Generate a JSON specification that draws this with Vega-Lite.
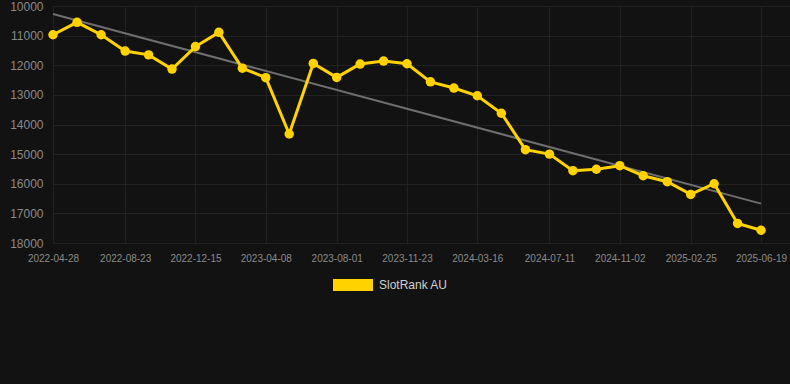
{
  "$schema": "https://vega.github.io/schema/vega-lite/v6.json",
  "width": 737,
  "height": 237,
  "autosize": {"type": "none"},
  "padding": {"left": 53, "top": 6, "right": 0, "bottom": 141},
  "background": "#121212",
  "config": {
    "view": {"stroke": null},
    "font": "Liberation Sans"
  },
  "datasets": {
    "rank": [
      {"date": "2022-04-28", "rank": 10970, "series": "SlotRank AU"},
      {"date": "2022-06-06", "rank": 10550, "series": "SlotRank AU"},
      {"date": "2022-07-15", "rank": 10970, "series": "SlotRank AU"},
      {"date": "2022-08-23", "rank": 11520, "series": "SlotRank AU"},
      {"date": "2022-09-30", "rank": 11650, "series": "SlotRank AU"},
      {"date": "2022-11-07", "rank": 12130, "series": "SlotRank AU"},
      {"date": "2022-12-15", "rank": 11370, "series": "SlotRank AU"},
      {"date": "2023-01-22", "rank": 10890, "series": "SlotRank AU"},
      {"date": "2023-03-01", "rank": 12100, "series": "SlotRank AU"},
      {"date": "2023-04-08", "rank": 12420, "series": "SlotRank AU"},
      {"date": "2023-05-16", "rank": 14320, "series": "SlotRank AU"},
      {"date": "2023-06-24", "rank": 11940, "series": "SlotRank AU"},
      {"date": "2023-08-01", "rank": 12410, "series": "SlotRank AU"},
      {"date": "2023-09-08", "rank": 11960, "series": "SlotRank AU"},
      {"date": "2023-10-16", "rank": 11860, "series": "SlotRank AU"},
      {"date": "2023-11-23", "rank": 11950, "series": "SlotRank AU"},
      {"date": "2023-12-31", "rank": 12560, "series": "SlotRank AU"},
      {"date": "2024-02-07", "rank": 12770, "series": "SlotRank AU"},
      {"date": "2024-03-16", "rank": 13030, "series": "SlotRank AU"},
      {"date": "2024-04-24", "rank": 13620, "series": "SlotRank AU"},
      {"date": "2024-06-02", "rank": 14850, "series": "SlotRank AU"},
      {"date": "2024-07-11", "rank": 15000, "series": "SlotRank AU"},
      {"date": "2024-08-18", "rank": 15560, "series": "SlotRank AU"},
      {"date": "2024-09-25", "rank": 15510, "series": "SlotRank AU"},
      {"date": "2024-11-02", "rank": 15390, "series": "SlotRank AU"},
      {"date": "2024-12-10", "rank": 15730, "series": "SlotRank AU"},
      {"date": "2025-01-18", "rank": 15930, "series": "SlotRank AU"},
      {"date": "2025-02-25", "rank": 16360, "series": "SlotRank AU"},
      {"date": "2025-04-04", "rank": 16000, "series": "SlotRank AU"},
      {"date": "2025-05-12", "rank": 17340, "series": "SlotRank AU"},
      {"date": "2025-06-19", "rank": 17570, "series": "SlotRank AU"}
    ],
    "trend": [
      {"date": "2022-04-28", "rank": 10270},
      {"date": "2025-06-19", "rank": 16670}
    ]
  },
  "encoding": {
    "x": {
      "field": "date",
      "type": "temporal",
      "scale": {"domain": ["2022-04-28", "2025-08-05"]},
      "axis": {
        "title": null,
        "values": ["2022-04-28", "2022-08-23", "2022-12-15", "2023-04-08", "2023-08-01", "2023-11-23", "2024-03-16", "2024-07-11", "2024-11-02", "2025-02-25", "2025-06-19"],
        "format": "%Y-%m-%d",
        "labelColor": "#8a8a8a",
        "labelFontSize": 10,
        "labelPadding": 10,
        "labelFont": "Liberation Sans",
        "labelOverlap": false,
        "labelFlush": false,
        "ticks": false,
        "domain": false,
        "grid": true,
        "gridColor": "#222222",
        "gridWidth": 1
      }
    },
    "y": {
      "field": "rank",
      "type": "quantitative",
      "scale": {"domain": [10000, 18000], "reverse": true, "nice": false, "zero": false},
      "axis": {
        "title": null,
        "values": [10000, 11000, 12000, 13000, 14000, 15000, 16000, 17000, 18000],
        "format": "d",
        "labelColor": "#8a8a8a",
        "labelFontSize": 12,
        "labelPadding": 10,
        "labelFont": "Liberation Sans",
        "labelFlush": false,
        "ticks": false,
        "domain": false,
        "grid": true,
        "gridColor": "#222222",
        "gridWidth": 1
      }
    }
  },
  "layer": [
    {
      "data": {"name": "trend"},
      "mark": {"type": "line", "color": "#6e6e6e", "strokeWidth": 2}
    },
    {
      "data": {"name": "rank"},
      "mark": {"type": "line", "strokeWidth": 3, "point": {"filled": true, "size": 90, "opacity": 1}},
      "encoding": {
        "color": {
          "field": "series",
          "type": "nominal",
          "scale": {"range": ["#ffd200"]},
          "legend": {
            "title": null,
            "orient": "none",
            "legendX": 280,
            "legendY": 259,
            "symbolType": "M-1,-0.3H1V0.3H-1Z",
            "symbolSize": 1600,
            "symbolStrokeWidth": 0,
            "symbolFillColor": "#ffd200",
            "labelColor": "#d0d0d0",
            "labelFontSize": 12,
            "labelFont": "Liberation Sans",
            "labelOffset": 6
          }
        }
      }
    }
  ]
}
